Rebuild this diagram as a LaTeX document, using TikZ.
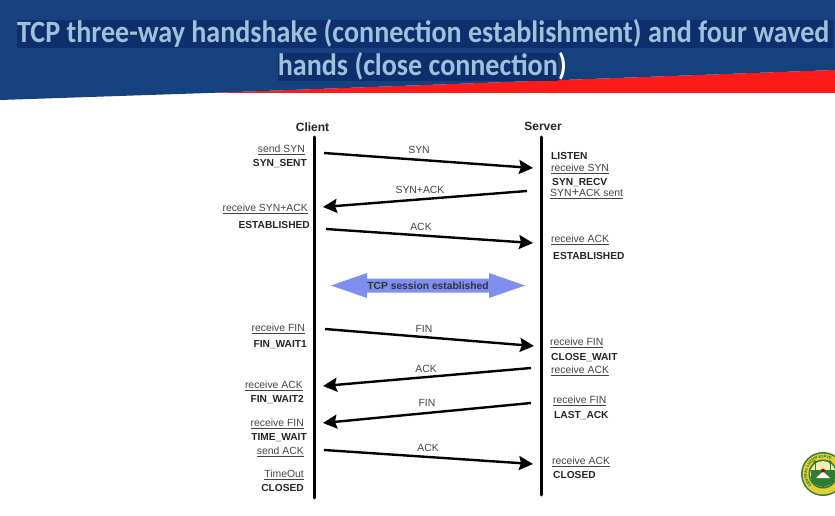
\documentclass[tikz,border=0pt]{standalone}
\usepackage{fontspec}
\setmainfont{Liberation Sans}
\newfontfamily\titlefont{Carlito}
\usetikzlibrary{arrows.meta,decorations.text}
\definecolor{hdrblue}{HTML}{15417F}
\definecolor{hlblue}{HTML}{0E2E6C}
\definecolor{titletxt}{HTML}{9CC2DC}
\definecolor{hdrred}{HTML}{FF1A1A}
\definecolor{lblgrey}{HTML}{444444}
\definecolor{sess}{HTML}{7F8FF0}
\definecolor{sealgreen}{HTML}{2E7D32}
\definecolor{sealyellow}{HTML}{E3CF3A}
\definecolor{sealpale}{HTML}{F2EDB0}
\definecolor{sealtext}{HTML}{1B5E20}
\tikzset{
  x=1pt,y=-1pt,
  lifeline/.style={line width=3pt,line cap=round,black},
  msg/.style={line width=2.4pt,black,-{Stealth[length=14pt,width=14pt,inset=2pt]}},
  actor/.style={font=\fontsize{12}{14}\selectfont\bfseries,text=black!85,inner sep=0pt},
  ev/.style={font=\fontsize{10.4}{12}\selectfont,text=lblgrey,inner sep=0pt},
  evl/.style={ev,anchor=east},
  evr/.style={ev,anchor=west},
  st/.style={font=\fontsize{10.2}{12}\selectfont\bfseries,text=black!85,inner sep=0pt},
  stl/.style={st,anchor=east},
  str/.style={st,anchor=west},
  msgl/.style={font=\fontsize{10.4}{12}\selectfont,text=lblgrey,inner sep=0pt},
  ttl/.style={font=\titlefont\fontsize{31}{32}\selectfont\bfseries,text=titletxt,inner sep=0pt}
}
\newcommand{\ul}[1]{\underline{#1}}
\newcommand{\ttlsq}[1]{\scalebox{0.905}[1]{#1}}
\begin{document}
\begin{tikzpicture}
\useasboundingbox (0,0) rectangle (835,516);
\fill[white] (0,0) rectangle (835,516);
% header
\fill[hdrred] (208,93) -- (835,70) -- (835,93) -- cycle;
\fill[hdrblue] (0,0) -- (835,0) -- (835,70) -- (208,93) -- (0,100) -- cycle;
\fill[hlblue] (17,20) rectangle (833,48);
\fill[hlblue] (278,53) rectangle (558,81);
\node[ttl,anchor=west] (t1) at (17,33.5) {\ttlsq{TCP three-way handshake (connection establishment) and four waved}};
\node[ttl,anchor=east] (t2) at (558,66.5) {\ttlsq{hands (close connection}};
\node[ttl,anchor=west,text=white] (t3) at (t2.east) {\ttlsq{)}};
% lifelines
\coordinate (c0) at (314,137); \coordinate (c1) at (314,498);
\coordinate (s0) at (541,137); \coordinate (s1) at (541,495);
\draw[lifeline] (c0) -- (c1);
\draw[lifeline] (s0) -- (s1);
\node[actor] (client) at (312.5,127) {Client};
\node[actor] (server) at (543,126) {Server};
% message anchors
\coordinate (m1a) at (324,153); \coordinate (m1b) at (533,168);
\coordinate (m2a) at (527,191); \coordinate (m2b) at (323,207);
\coordinate (m3a) at (326,229); \coordinate (m3b) at (533,243);
\coordinate (m4a) at (325,329); \coordinate (m4b) at (534,346);
\coordinate (m5a) at (531,368); \coordinate (m5b) at (323,386);
\coordinate (m6a) at (531,403); \coordinate (m6b) at (323,423);
\coordinate (m7a) at (324,450); \coordinate (m7b) at (533,464);
\draw[msg] (m1a) -- (m1b);
\draw[msg] (m2a) -- (m2b);
\draw[msg] (m3a) -- (m3b);
\draw[msg] (m4a) -- (m4b);
\draw[msg] (m5a) -- (m5b);
\draw[msg] (m6a) -- (m6b);
\draw[msg] (m7a) -- (m7b);
% message labels
\node[msgl] (l1) at (419,150) {SYN};
\node[msgl] (l2) at (420,190) {SYN+ACK};
\node[msgl] (l3) at (421,227) {ACK};
\node[msgl] (l4) at (424,329) {FIN};
\node[msgl] (l5) at (426,369) {ACK};
\node[msgl] (l6) at (427,403) {FIN};
\node[msgl] (l7) at (428,448) {ACK};
% session arrow
\fill[sess] (331,285.5) -- (367,273) -- (367,278.5) -- (489,278.5) -- (489,273) -- (525,285.5) -- (489,298) -- (489,292.5) -- (367,292.5) -- (367,298) -- cycle;
\node[font=\fontsize{10.3}{12}\selectfont\bfseries,text=black!80,inner sep=0pt] (sesstxt) at (428,286) {TCP session established};
% client labels
\node[evl] (e1) at (305,150) {\ul{send SYN}};
\node[stl] (e2) at (307,164) {SYN\_SENT};
\node[evl] (e3) at (308,209) {\ul{receive SYN+ACK}};
\node[stl] (e4) at (310,225) {ESTABLISHED};
\node[evl] (e5) at (305,329) {\ul{receive FIN}};
\node[stl] (e6) at (307,344.5) {FIN\_WAIT1};
\node[evl] (e7) at (303,385.5) {\ul{receive ACK}};
\node[stl] (e8) at (304,400) {FIN\_WAIT2};
\node[evl] (e9) at (304,423.5) {\ul{receive FIN}};
\node[stl] (e10) at (307,437.5) {TIME\_WAIT};
\node[evl] (e11) at (304,451.5) {\ul{send ACK}};
\node[evl] (e12) at (304,475) {\ul{TimeOut}};
\node[stl] (e13) at (304,487.5) {CLOSED};
% server labels
\node[str] (r1) at (551,155.5) {LISTEN};
\node[evr] (r2) at (551,168.5) {\ul{receive SYN}};
\node[str] (r3) at (552,182.5) {SYN\_RECV};
\node[evr] (r4) at (550,194) {\ul{SYN{\fontsize{13}{12}\selectfont +}ACK sent}};
\node[evr] (r5) at (551,239.5) {\ul{receive ACK}};
\node[str] (r6) at (553,256) {ESTABLISHED};
\node[evr] (r7) at (550,342.5) {\ul{receive FIN}};
\node[str] (r8) at (551,357.5) {CLOSE\_WAIT};
\node[evr] (r9) at (551,370.5) {\ul{receive ACK}};
\node[evr] (r10) at (553,400.5) {\ul{receive FIN}};
\node[str] (r11) at (554,415.5) {LAST\_ACK};
\node[evr] (r12) at (552,461.5) {\ul{receive ACK}};
\node[str] (r13) at (553,475) {CLOSED};
% seal
\fill[sealgreen] (823,474) circle[radius=22pt];
\fill[sealyellow] (823,474) circle[radius=20.5pt];
\fill[sealgreen] (823,474) circle[radius=14.5pt];
\fill[sealpale] (823,474) circle[radius=13pt];
\draw[sealgreen,line width=0.7pt] (815,462) -- (815,472) (830,462) -- (830,472);
\fill[sealgreen] (815,462) circle[radius=1.8pt] (830,462) circle[radius=1.8pt];
\fill[sealgreen] (811,470) -- (835,470) -- (835,478) .. controls (835,484) and (828,486) .. (823,487) .. controls (818,486) and (811,484) .. (811,478) -- cycle;
\fill[white] (816,478) -- (823,471.5) -- (830,478) -- cycle;
\fill[red!70!black] (823,470.5) circle[radius=2pt];
\path[decorate,decoration={text along path,text={|\fontsize{3.8}{5}\selectfont\bfseries\color{sealtext}|CENTRAL LUZON STATE}}]
  (811.7,485.3) arc[start angle=225,end angle=45,radius=16pt];
\end{tikzpicture}
\end{document}
